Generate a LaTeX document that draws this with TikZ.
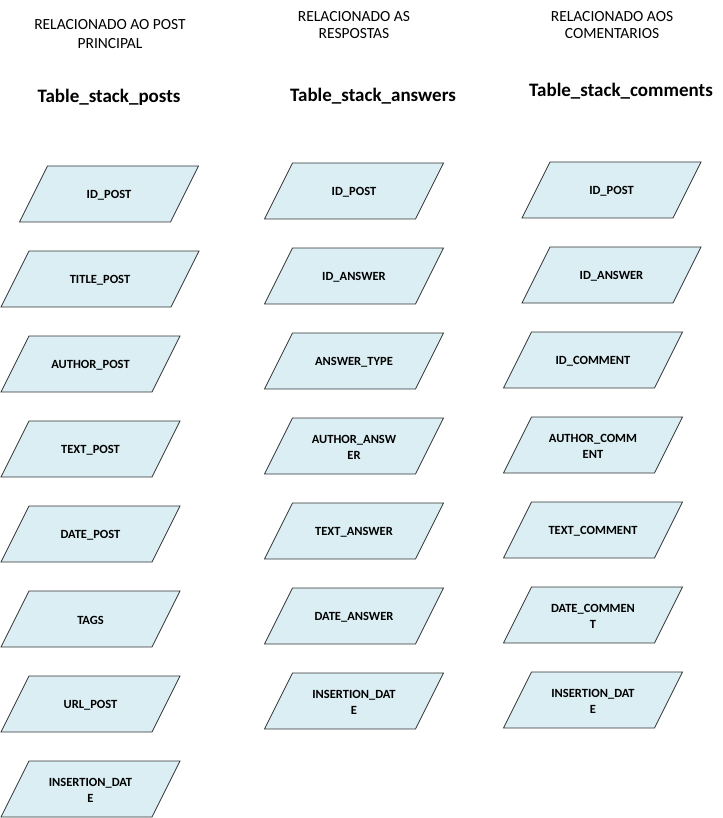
\documentclass[tikz,border=0pt]{standalone}
\usepackage{fontspec}
\setmainfont{Carlito}
\usepackage{tikz}
\definecolor{campofill}{HTML}{DAEEF3}

% campo: [meia largura] nome, centro, texto
\newcommand{\campo}[4][89.5]{%
  \draw[borda, shift={#3}] (-#1,28) -- ({-#1+28},-28) -- (#1,-28) -- ({#1-28},28) -- cycle;
  \node[rotulo] (#2) at #3 {#4};}

\begin{document}
\begin{tikzpicture}[x=1pt, y=-1pt,
    borda/.style={draw=black!80, fill=campofill, line width=0.7pt, line join=miter},
    rotulo/.style={inner sep=0pt, yshift=-1.5pt, align=center, font=\bfseries\fontsize{12.5}{16}\selectfont},
    cabecalho/.style={align=center, font=\fontsize{15.5}{19}\selectfont},
    tabela/.style={anchor=base, font=\bfseries\fontsize{19}{23}\selectfont}]
      \useasboundingbox (0,0) rectangle (722,818);

      % cabecalhos
      \node[cabecalho] (hpost) at (110, 34.5) {RELACIONADO AO POST\\PRINCIPAL};
      \node[cabecalho, font=\fontsize{15.5}{17.5}\selectfont] (hans) at (354, 25) {RELACIONADO AS\\RESPOSTAS};
      \node[cabecalho, font=\fontsize{15.5}{17.5}\selectfont] (hcom) at (612, 25) {RELACIONADO AOS\\COMENTARIOS};

      \node[tabela] (tpost) at (109, 103) {Table\_stack\_posts};
      \node[tabela] (tans) at (373, 102) {Table\_stack\_answers};
      \node[tabela] (tcom) at (621, 97) {Table\_stack\_comments};

      % posts
      \campo{pid}{(109, 194)}{ID\_POST}
      \campo[99]{ptitle}{(100, 279)}{TITLE\_POST}
      \campo{pauthor}{(90.5, 364)}{AUTHOR\_POST}
      \campo{ptext}{(90.5, 449)}{TEXT\_POST}
      \campo{pdate}{(90.5, 534)}{DATE\_POST}
      \campo{ptags}{(90.5, 619)}{TAGS}
      \campo{purl}{(90.5, 704)}{URL\_POST}
      \campo{pins}{(90.5, 789)}{INSERTION\_DAT\\E}

      % answers
      \campo{aidpost}{(354, 191)}{ID\_POST}
      \campo{aid}{(354, 276)}{ID\_ANSWER}
      \campo{atype}{(354, 361)}{ANSWER\_TYPE}
      \campo{aauthor}{(354, 446)}{AUTHOR\_ANSW\\ER}
      \campo{atext}{(354, 531)}{TEXT\_ANSWER}
      \campo{adate}{(354, 616)}{DATE\_ANSWER}
      \campo{ains}{(354, 701)}{INSERTION\_DAT\\E}

      % comments
      \campo{cidpost}{(611.5, 190)}{ID\_POST}
      \campo{cidans}{(611.5, 275)}{ID\_ANSWER}
      \campo{cid}{(593, 360)}{ID\_COMMENT}
      \campo{cauthor}{(593, 445)}{AUTHOR\_COMM\\ENT}
      \campo{ctext}{(593, 530)}{TEXT\_COMMENT}
      \campo{cdate}{(593, 615)}{DATE\_COMMEN\\T}
      \campo{cins}{(593, 700)}{INSERTION\_DAT\\E}
    \end{tikzpicture}
\end{document}
